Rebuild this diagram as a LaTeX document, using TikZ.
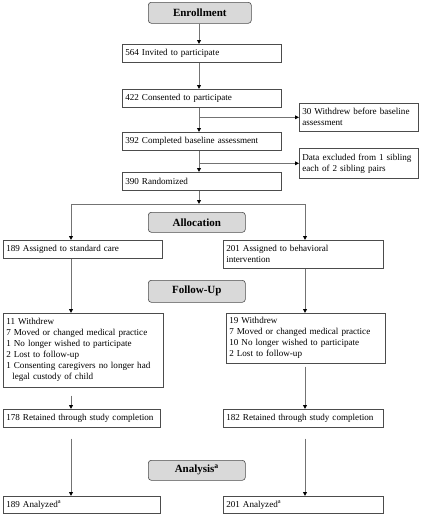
\documentclass[tikz,border=0pt]{standalone}
\usepackage{fontspec}
\setmainfont{Liberation Serif}
\usetikzlibrary{arrows.meta}
\hyphenpenalty=10000
\tikzset{
  box/.style={draw=black!70, line width=0.6pt, anchor=north west, inner xsep=3pt, inner ysep=2pt,
    align=left, font=\fontsize{9.1}{11}\selectfont},
  hdr/.style={draw=black!70, line width=0.6pt, fill=black!15, rounded corners=3pt, anchor=north west,
    inner sep=0pt, align=center, font=\fontsize{11}{13}\selectfont\bfseries},
  conn/.style={draw=black!55, line width=0.8pt},
  arr/.style={conn, -{Triangle[length=4pt,width=3.8pt,color=black]}}
}
\newcommand{\bx}[6]{% name, x1, y1, x2, y2, text
  \pgfmathsetmacro{\bw}{#4-#2}\pgfmathsetmacro{\bh}{#5-#3}\pgfmathsetmacro{\tw}{#4-#2-6}
  \node[box, minimum width=\bw pt, minimum height=\bh pt, text width=\tw pt] (#1) at (#2,#3) {#6};}
\newcommand{\hx}[6]{%
  \pgfmathsetmacro{\bw}{#4-#2}\pgfmathsetmacro{\bh}{#5-#3}
  \node[hdr, minimum width=\bw pt, minimum height=\bh pt] (#1) at (#2,#3) {#6};}
\begin{document}
\begin{tikzpicture}[x=1pt,y=-1pt]
\useasboundingbox (0,0) rectangle (430,514);
\coordinate (spine) at (199,0);
\coordinate (lx) at (71,0);
\coordinate (rx) at (305,0);
\coordinate (split) at (199,204);

\hx{enroll}{148}{2}{251}{23}{Enrollment}
\bx{b564}{122}{44}{281}{62}{564 Invited to participate}
\bx{b422}{122}{89}{281}{107}{422 Consented to participate}
\bx{b392}{122}{132}{281}{150}{392 Completed baseline assessment}
\bx{b390}{122}{172}{281}{190}{390 Randomized}
\bx{w30}{299}{103}{418}{131}{30 Withdrew before baseline\\assessment}
\bx{dex}{299}{148}{418}{178}{Data excluded from 1 sibling\\each of 2 sibling pairs}
\hx{alloc}{148}{212}{245}{232}{Allocation}
\bx{a189}{3}{240}{162}{258}{189 Assigned to standard care}
\bx{a201}{223}{240}{383}{268}{201 Assigned to behavioral\\intervention}
\hx{follow}{148}{280}{245}{302}{Follow-Up}
\bx{wl}{3}{313}{163}{387}{11 Withdrew\\7 Moved or changed medical practice\\1 No longer wished to participate\\2 Lost to follow-up\\1 Consenting caregivers no longer had\\\hspace*{6pt}legal custody of child}
\bx{wr}{226}{313}{385}{363}{19 Withdrew\\7 Moved or changed medical practice\\10 No longer wished to participate\\2 Lost to follow-up}
\bx{r178}{3}{409}{160}{427}{178 Retained through study completion}
\bx{r182}{223}{409}{383}{427}{182 Retained through study completion}
\hx{analysis}{148}{460}{245}{480}{Analysis\textsuperscript{a}}
\bx{an189}{3}{496}{160}{513}{189 Analyzed\textsuperscript{a}}
\bx{an201}{223}{496}{383}{513}{201 Analyzed\textsuperscript{a}}

\draw[arr] (enroll.south -| spine) -- (b564.north -| spine);
\draw[arr] (b564.south -| spine) -- (b422.north -| spine);
\draw[arr] (b422.south -| spine) -- (b392.north -| spine);
\draw[arr] (spine |- w30.west) -- (w30.west);
\draw[arr] (b392.south -| spine) -- (b390.north -| spine);
\draw[arr] (spine |- dex.west) -- (dex.west);
\draw[arr] (b390.south -| spine) -- (split);
\draw[conn] (split -| lx) -- (split -| rx);
\draw[arr] (split -| lx) -- (a189.north -| lx);
\draw[arr] (split -| rx) -- (a201.north -| rx);
\draw[arr] (a189.south -| lx) -- (wl.north -| lx);
\draw[arr] (a201.south -| rx) -- (wr.north -| rx);
\draw[arr, shorten <=8pt] (wl.south -| lx) -- (r178.north -| lx);
\draw[arr, shorten <=3pt] (wr.south -| rx) -- (r182.north -| rx);
\draw[arr, shorten <=11pt] (r178.south -| lx) -- (an189.north -| lx);
\draw[arr, shorten <=11pt] (r182.south -| rx) -- (an201.north -| rx);
\end{tikzpicture}
\end{document}
